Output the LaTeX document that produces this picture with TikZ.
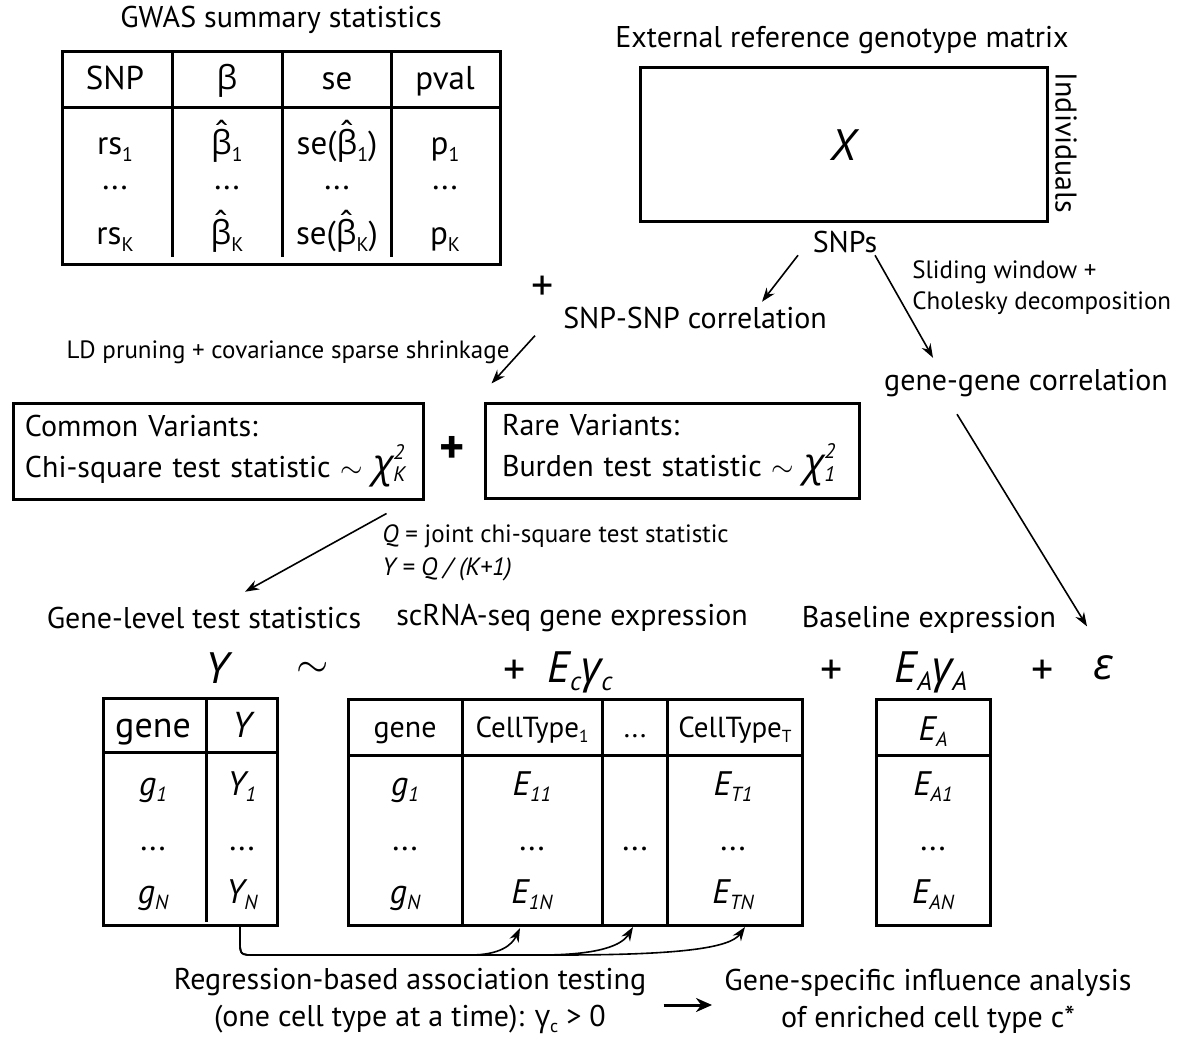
\documentclass[tikz,border=0pt]{standalone}
\usepackage{fontspec}
\setmainfont{PT Sans}
\newfontfamily\gk{Open Sans}
\usetikzlibrary{arrows.meta}

\newcommand\lo[1]{\raisebox{-0.4ex}{\scalebox{0.6}{#1}}}
\newcommand\bhat{{\gk\ooalign{β\cr\hidewidth\raisebox{0.3em}{\char"02C6}\hidewidth\cr}}}
\newcommand\chisq[1]{{\fontsize{20}{20}\selectfont\gk\itshape χ}\makebox[0pt][l]{\raisebox{1.2ex}{\scalebox{0.7}{\itshape 2}}}\raisebox{-0.3ex}{\scalebox{0.7}{\itshape #1}}}

\begin{document}
\begin{tikzpicture}[x=0.5pt, y=-0.5pt,
  lbl/.style={inner sep=0pt, font=\fontsize{15}{18}\selectfont},
  note/.style={inner sep=0pt, font=\fontsize{12.5}{15.5}\selectfont},
  cell/.style={inner sep=0pt, anchor=base, font=\fontsize{16.5}{19}\selectfont},
  gcell/.style={inner sep=0pt, anchor=base, font=\fontsize{17}{20}\selectfont\itshape},
  big/.style={inner sep=0pt, font=\fontsize{22}{26}\selectfont},
  tbox/.style={draw, line width=1.5pt},
  arr/.style={-{Stealth[length=7pt,width=5pt]}, line width=0.8pt}]
\useasboundingbox (0,0) rectangle (1202,1042);

% GWAS table
\node[lbl] (gwas) at (281,20) {GWAS summary statistics};
\draw[tbox] (62,52) rectangle (500,265);
\draw[tbox] (62,108) -- (500,108);
\foreach \x in {172,282,391} \draw[tbox] (\x,52) -- (\x,257);
\node[cell] (snp) at (115,90) {SNP};
\node[cell] (beta) at (227,90) {\gk β};
\node[cell] (se) at (337,90) {se};
\node[cell] (pval) at (445,90) {pval};
\node[cell] (rs1) at (115,155) {rs\lo{1}};
\node[cell] (b1) at (227,155) {\bhat\lo{1}};
\node[cell] (se1) at (337,155) {se(\bhat\lo{1})};
\node[cell] (p1) at (445,155) {p\lo{1}};
\foreach \x/\n in {115/a,227/b,337/c,445/d} \node[cell] (dot\n) at (\x,190) {...};
\node[cell] (rsK) at (115,245) {rs\lo{K}};
\node[cell] (bK) at (227,245) {\bhat\lo{K}};
\node[cell] (seK) at (337,245) {se(\bhat\lo{K})};
\node[cell] (pK) at (445,245) {p\lo{K}};

% genotype matrix
\node[lbl] (ext) at (842,40) {External reference genotype matrix};
\node[tbox, minimum width=203.5pt, minimum height=77pt] (X) at (843.5,145) {\fontsize{22}{26}\selectfont\itshape X};
\node[lbl, rotate=-90] (indiv) at (1066,143) {Individuals};
\node[lbl] (snps) at (845,242) {SNPs};
\node[lbl] (snpcor) at (695,318) {SNP-SNP correlation};
\node[note, align=left, anchor=west] (slide) at (912,288) {Sliding window +\\Cholesky decomposition};
\node[lbl] (genecor) at (1026,383) {gene-gene correlation};
\draw[arr] ([shift={(-47,2)}]snps.south) -- ([shift={(67,-5)}]snpcor.north);
\draw[arr] ([shift={(30,2)}]snps.south) -- ([shift={(-93,-11)}]genecor.north);

% variant boxes
\node[big] (plusA) at (543,288) {+};
\node[note] (ld) at (288,352) {LD pruning + covariance sparse shrinkage};
\node[tbox, lbl, text width=193pt, inner xsep=6pt, minimum height=48pt, align=left, font=\fontsize{15}{20.5}\selectfont] (common) at (218,451) {Common Variants:\\Chi-square test statistic $\sim$ \chisq{K}};
\node[big, font=\fontsize{24}{28}\selectfont\bfseries] (plusB) at (452,450) {+};
\node[tbox, lbl, text width=170pt, inner xsep=8.5pt, minimum height=47.5pt, align=left, font=\fontsize{15}{20.5}\selectfont] (rare) at (672,450.5) {Rare Variants:\\Burden test statistic $\sim$ \chisq{1}};
\draw[arr] ([shift={(-8,35)}]plusA.south) -- ([shift={(8,-18)}]rare.north west);
\node[note, align=left, anchor=west, font=\fontsize{12.5}{16.5}\selectfont] (qtxt) at (382,553) {\textit{Q} = joint chi-square test statistic\\\itshape Y = Q / (K+1)};

% model row
\node[lbl] (genelevel) at (204,618) {Gene-level test statistics};
\node[lbl] (scrna) at (572,618) {scRNA-seq gene expression};
\node[lbl] (baseline) at (929,620) {Baseline expression};
\draw[arr] ([shift={(-38,13)}]common.south east) -- ([shift={(41,-15)}]genelevel.north);
\node[big, font=\fontsize{22}{26}\selectfont\itshape] (ysym) at (217,668) {Y};
\node[big] (tilde) at (313,670) {$\sim$};
\node[big] (plusC) at (515,672) {+};
\node[big, font=\fontsize{22}{26}\selectfont\itshape] (ec) at (580,672) {E\lo{c}{\gk γ}\lo{c}};
\node[big] (plusD) at (832,672) {+};
\node[big, font=\fontsize{22}{26}\selectfont\itshape] (ea) at (931,672) {E\lo{A}{\gk γ}\lo{A}};
\node[big] (plusE) at (1043,672) {+};
\node[big] (eps) at (1103,668) {\gk\itshape ε};
\draw[arr] ([shift={(-69,17)}]genecor.south) -- ([shift={(-16,-29)}]eps.north);

% Y table
\draw[tbox] (103,698) rectangle (277,925);
\draw[tbox] (103,752) -- (277,752);
\draw[tbox] (206,698) -- (206,922);
\node[cell, font=\fontsize{18}{21}\selectfont] (hgene) at (153,737) {gene};
\node[gcell, font=\fontsize{18}{21}\selectfont\itshape] (hy) at (242,737) {Y};
\node[gcell] (g1) at (153,795) {g\lo{1}};
\node[gcell] (y1) at (242,795) {Y\lo{1}};
\node[cell] (gd) at (153,850) {...};
\node[cell] (yd) at (242,850) {...};
\node[gcell] (gN) at (153,903) {g\lo{N}};
\node[gcell] (yN) at (242,903) {Y\lo{N}};

% expression table
\draw[tbox] (348,699) rectangle (802,925);
\draw[tbox] (348,755) -- (802,755);
\foreach \x in {462,602,667} \draw[tbox] (\x,699) -- (\x,925);
\node[cell, font=\fontsize{15}{18}\selectfont] (egene) at (405,737) {gene};
\node[cell, font=\fontsize{14.5}{18}\selectfont] (ct1) at (532,737) {CellType\lo{1}};
\node[cell, font=\fontsize{14.5}{18}\selectfont] (ctd) at (635,737) {...};
\node[cell, font=\fontsize{14.5}{18}\selectfont] (ctT) at (735,737) {CellType\lo{T}};
\node[gcell] (eg1) at (405,795) {g\lo{1}};
\node[gcell] (e11) at (532,795) {E\lo{11}};
\node[gcell] (eT1) at (733,795) {E\lo{T1}};
\foreach \x/\n in {405/a,532/b,635/c,733/d} \node[cell] (edot\n) at (\x,850) {...};
\node[gcell] (egN) at (405,903) {g\lo{N}};
\node[gcell] (e1N) at (532,903) {E\lo{1N}};
\node[gcell] (eTN) at (733,903) {E\lo{TN}};

% baseline table
\draw[tbox] (876,699) rectangle (990,925);
\draw[tbox] (876,755) -- (990,755);
\node[gcell] (hea) at (933,740) {E\lo{A}};
\node[gcell] (ea1) at (933,795) {E\lo{A1}};
\node[cell] (ead) at (933,850) {...};
\node[gcell] (eaN) at (933,903) {E\lo{AN}};

% regression arrows
\coordinate (ybot) at (240,925);
\coordinate (t1) at (520,928);
\coordinate (t2) at (633,927);
\coordinate (t3) at (745,927);
\draw[arr] (ybot) -- (240,940) .. controls (240,955) .. (256,955) -- (470,955) .. controls (500,955) and (512,945) .. (t1);
\draw[arr] (ybot) -- (240,940) .. controls (240,955) .. (256,955) -- (540,955) .. controls (600,955) and (622,945) .. (t2);
\draw[arr] (ybot) -- (240,940) .. controls (240,955) .. (256,955) -- (560,955) .. controls (680,955) and (730,948) .. (t3);

\node[lbl, align=center, font=\fontsize{15}{18.5}\selectfont] (regr) at (410,1001) {Regression-based association testing\\(one cell type at a time): {\gk γ}\lo{c} > 0};
\node[lbl, align=center, font=\fontsize{15}{18.5}\selectfont] (infl) at (928,1001) {Gene-specific influence analysis\\of enriched cell type c*};
\draw[-{Stealth[length=8pt,width=7pt]}, line width=1.5pt] ([shift={(17,4)}]regr.east) -- ([shift={(-12,4)}]infl.west);
\end{tikzpicture}
\end{document}
